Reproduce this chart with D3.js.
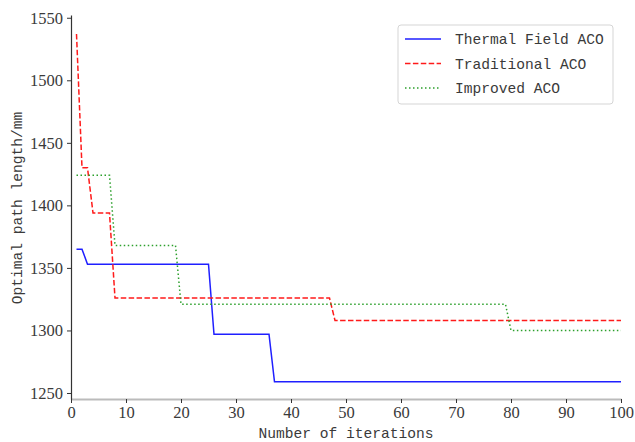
<!DOCTYPE html>
<html><head><meta charset="utf-8">
<script src="https://cdn.jsdelivr.net/npm/d3@7"></script>
<style>body{margin:0;background:#fff}</style>
</head><body>
<svg id="chart" width="635" height="442"></svg>
<script>
// Data (iteration, optimal path length)
const thermalX = [1, 2, 3, 25, 26, 36, 37, 100];
const thermalY = [1365, 1365, 1353, 1353, 1297, 1297, 1259, 1259];
const traditionalX = [1, 2, 3, 4, 7, 8, 47, 48, 100];
const traditionalY = [1537, 1430, 1430, 1394, 1394, 1326, 1326, 1308, 1308];
const improvedX = [1, 7, 8, 19, 20, 79, 80, 100];
const improvedY = [1424, 1424, 1368, 1368, 1321, 1321, 1300, 1300];
const seriesNames = ["Thermal Field ACO", "Traditional ACO", "Improved ACO"];
const xTicks = [0, 10, 20, 30, 40, 50, 60, 70, 80, 90, 100];
const yTicks = [1250, 1300, 1350, 1400, 1450, 1500, 1550];

(function () {
const svg = d3.select("#chart");
const mLeft = 71, mRight = 621, mTop = 15, mBottom = 399;
const x = d3.scaleLinear().domain([0, 100]).range([mLeft, mRight]);
const y = d3.scaleLinear().domain([1245.2, 1552.2]).range([mBottom, mTop]);

const labelFont = "'Liberation Mono', 'DejaVu Sans Mono', monospace";
const tickFont = "'Liberation Serif', 'Times New Roman', 'DejaVu Serif', serif";

function styleTicks(g) {
  g.attr("font-family", null).attr("font-size", null);
  g.selectAll(".tick text")
    .style("font-family", tickFont)
    .style("font-size", "16.5px")
    .attr("fill", "#3a3a3a");
  g.selectAll(".tick line").attr("stroke", "#333");
}

// axes
const xAxis = d3.axisBottom(x).tickValues(xTicks).tickFormat(d3.format("d")).tickSize(4).tickSizeOuter(0).tickPadding(3);
const gx = svg.append("g").attr("transform", `translate(0,${mBottom})`).call(xAxis);
styleTicks(gx);
gx.select(".domain").attr("stroke", "#bbb").attr("stroke-width", 2);

const yAxis = d3.axisLeft(y).tickValues(yTicks).tickFormat(d3.format("d")).tickSize(4).tickSizeOuter(0).tickPadding(4);
const gy = svg.append("g").attr("transform", `translate(${mLeft},0)`).call(yAxis);
styleTicks(gy);
gy.select(".domain").attr("stroke", "#333").attr("stroke-width", 1.2);

// lines
const line = d3.line().x(d => x(d[0])).y(d => y(d[1]));
const series = [
  {xs: thermalX, ys: thermalY, color: "#1f1fff", dash: null},
  {xs: traditionalX, ys: traditionalY, color: "#ff1a1a", dash: "5.5,2.4"},
  {xs: improvedX, ys: improvedY, color: "#2ca02c", dash: "1.5,2.5"}
];
series.forEach(s => {
  svg.append("path")
    .datum(s.xs.map((v, i) => [v, s.ys[i]]))
    .attr("d", line)
    .attr("fill", "none")
    .attr("stroke", s.color)
    .attr("stroke-width", 1.5)
    .attr("stroke-dasharray", s.dash);
});

// legend
const lg = svg.append("g");
lg.append("rect").attr("x", 398).attr("y", 25).attr("width", 215).attr("height", 79)
  .attr("rx", 3).attr("fill", "#fff").attr("fill-opacity", 0.8).attr("stroke", "#d5d5d5");
series.forEach((s, i) => {
  const yy = 39 + i * 24.5;
  lg.append("line").attr("x1", 405).attr("x2", 441).attr("y1", yy).attr("y2", yy)
    .attr("stroke", s.color).attr("stroke-width", 1.5).attr("stroke-dasharray", s.dash);
  lg.append("text").attr("x", 455).attr("y", yy).attr("dy", "0.35em")
    .style("font-family", labelFont).style("font-size", "14.6px").attr("fill", "#3a3a3a")
    .text(seriesNames[i]);
});

// axis labels
svg.append("text").attr("x", 346).attr("y", 438).attr("text-anchor", "middle")
  .style("font-family", labelFont).style("font-size", "14.6px").attr("fill", "#3a3a3a")
  .text("Number of iterations");
svg.append("text").attr("transform", "translate(22,208) rotate(-90)").attr("text-anchor", "middle")
  .style("font-family", labelFont).style("font-size", "14.6px").attr("fill", "#3a3a3a")
  .text("Optimal path length/mm");
})();
</script>
</body></html>
